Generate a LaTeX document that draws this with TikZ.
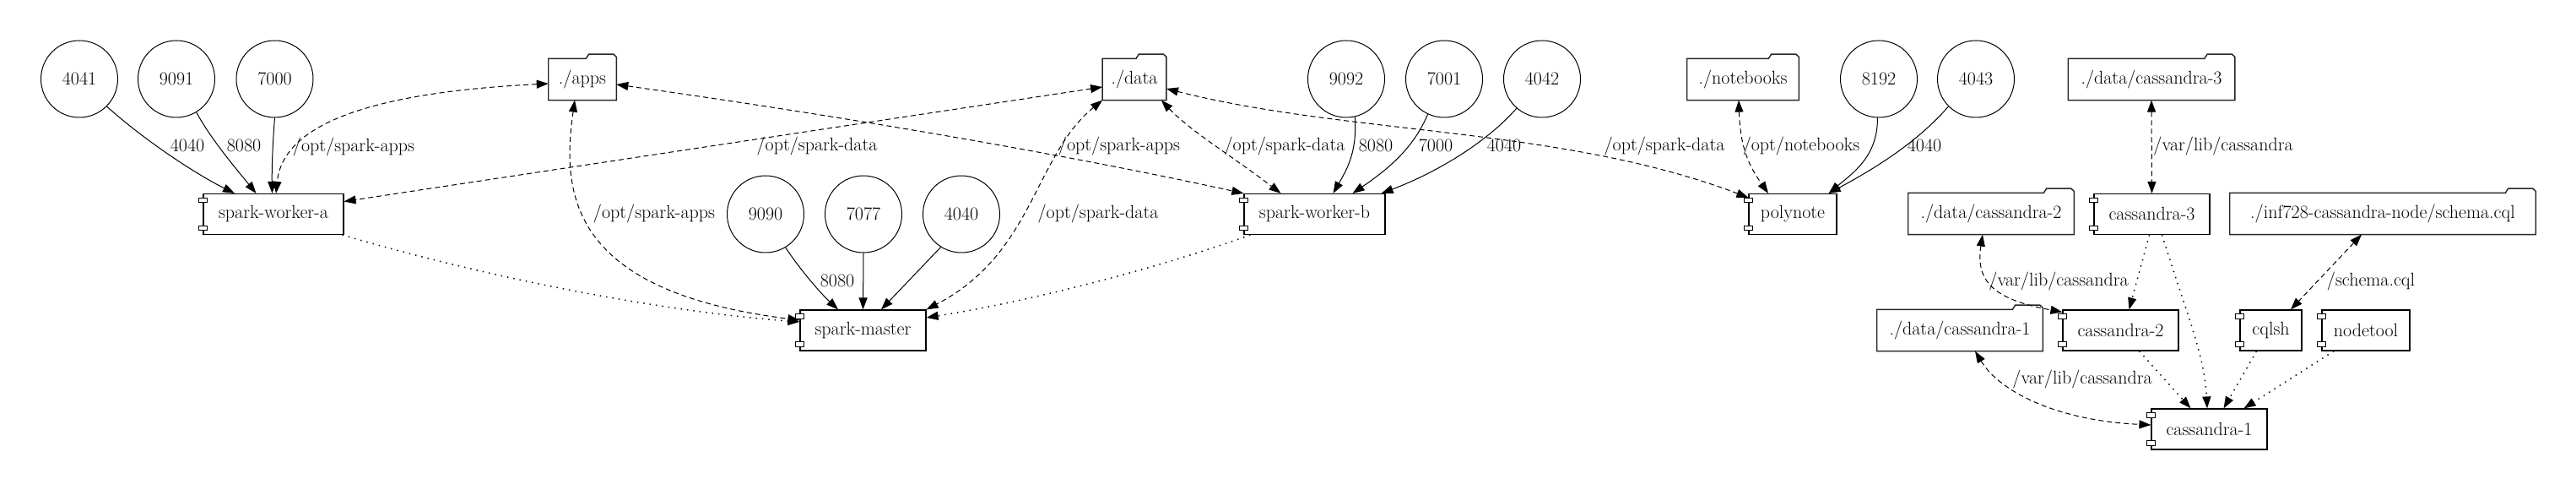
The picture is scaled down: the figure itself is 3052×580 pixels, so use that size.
\documentclass[tikz,border=0pt]{standalone}
\usetikzlibrary{arrows.meta,calc}
\tikzset{
  port/.style={draw, circle, minimum size=68.25pt, inner sep=0pt, line width=0.75pt},
  comp/.style={draw, rectangle, minimum height=36pt, inner sep=0pt, line width=0.9pt},
  folder/.style={rectangle, minimum height=36.5pt, inner sep=0pt},
  folderline/.style={draw=black!85, line width=1.1pt, line join=miter},
  tab/.style={draw, fill=white, line width=0.7pt},
  lbl/.style={inner sep=0pt},
  tip/.tip={Triangle[length=10.5pt, width=7.5pt]},
  portedge/.style={-tip, line width=0.75pt},
  voledge/.style={tip-tip, line width=0.75pt, dash pattern=on 4.5pt off 3pt},
  depedge/.style={-tip, line width=1.1pt, dash pattern=on 1.1pt off 4.5pt},
}
\begin{document}
\begin{tikzpicture}[x=0.75pt, y=-0.75pt, font=\rmfamily\fontsize{16.5}{20}\selectfont]
\useasboundingbox (0,0) rectangle (3052,580);

% ports
\node[port] (p4041) at (94,93.5) {4041};
\node[port] (p9091) at (209,93.5) {9091};
\node[port] (p7000) at (325.5,93.5) {7000};
\node[port] (p9090) at (907,253.5) {9090};
\node[port] (p7077) at (1023,253.5) {7077};
\node[port] (p4040) at (1139,253.5) {4040};
\node[port] (p9092) at (1595,93.5) {9092};
\node[port] (p7001) at (1711,93.5) {7001};
\node[port] (p4042) at (1827,93.5) {4042};
\node[port] (p8192) at (2226,93.5) {8192};
\node[port] (p4043) at (2341,93.5) {4043};

% folders
\node[folder, minimum width=60pt] (apps) at (690,94) {./apps};
\node[folder, minimum width=56.5pt] (data) at (1344,94) {./data};
\node[folder, minimum width=99pt] (notebooks) at (2065,94) {./notebooks};
\node[folder, minimum width=147.75pt] (cass3f) at (2549,94) {./data/cassandra-3};
\node[folder, minimum width=147pt] (cass2f) at (2359,253) {./data/cassandra-2};
\node[folder, minimum width=271.5pt] (schemaf) at (2823,253) {./inf728-cassandra-node/schema.cql};
\node[folder, minimum width=147pt] (cass1f) at (2322,391) {./data/cassandra-1};
\foreach \n in {apps,data,notebooks,cass3f,cass2f,schemaf,cass1f}{
  \draw[folderline] (\n.south west) -- (\n.north west) -- ($(\n.north east)+(-36,0)$)
    -- ($(\n.north east)+(-32.6,-5.3)$) -- ($(\n.north east)+(-3.5,-5.3)$)
    -- ($(\n.north east)+(0,-2)$) -- (\n.south east) -- cycle;
}

% components
\node[comp, minimum width=124.5pt] (wa) at (324,253.5) {spark-worker-a};
\node[comp, minimum width=111.75pt] (master) at (1022.5,391) {spark-master};
\node[comp, minimum width=125.25pt] (wb) at (1557.5,253.5) {spark-worker-b};
\node[comp, minimum width=78pt] (polynote) at (2124,253.5) {polynote};
\node[comp, minimum width=102.75pt] (cass3) at (2549.5,253.5) {cassandra-3};
\node[comp, minimum width=102.75pt] (cass2) at (2512.5,391) {cassandra-2};
\node[comp, minimum width=54.75pt] (cqlsh) at (2690.5,391) {cqlsh};
\node[comp, minimum width=78pt] (nodetool) at (2803,391) {nodetool};
\node[comp, minimum width=102.75pt] (cass1) at (2617.5,508) {cassandra-1};
\foreach \n in {wa,master,wb,polynote,cass3,cass2,cqlsh,nodetool,cass1}{
  \draw[tab] ($(\n.north west)+(-5,5.5)$) rectangle ++(10,5.5);
  \draw[tab] ($(\n.south west)+(-5,-11)$) rectangle ++(10,5.5);
}

% port edges
\draw[portedge] (p4041.-45) .. controls (170,165) and (230,205) .. ($(wa.north)+(-46,0)$);
\draw[portedge] (p9091.-59) .. controls (250,165) and (280,200) .. ($(wa.north)+(-20.5,0)$);
\draw[portedge] (p7000.south) .. controls (323,170) and (322,200) .. ($(wa.north)+(-1.5,0)$);
\draw[portedge] (p9090.-59) .. controls (945,315) and (970,345) .. ($(master.north)+(-29.5,0)$);
\draw[portedge] (p7077.south) -- (master.north);
\draw[portedge] (p4040.-122) -- ($(master.north)+(21.5,0)$);
\draw[portedge] (p9092.-77) .. controls (1608,180) and (1596,200) .. ($(wb.north)+(22,0)$);
\draw[portedge] (p7001.-115) .. controls (1675,175) and (1645,200) .. ($(wb.north)+(45,0)$);
\draw[portedge] (p4042.-131) .. controls (1760,170) and (1700,205) .. ($(wb.north east)+(-5,0)$);
\draw[portedge] (p8192.-92) .. controls (2225,185) and (2195,205) .. ($(polynote.north east)+(-10,0)$);
\draw[portedge] (p4043.225) .. controls (2270,170) and (2220,200) .. ($(polynote.north east)+(-10,0)$);

\node[lbl] (l1) at (222,172) {4040};
\node[lbl] (l2) at (289,172) {8080};
\node[lbl] (l3) at (992,332) {8080};
\node[lbl] (l4) at (1630,172) {8080};
\node[lbl] (l5) at (1701,172) {7000};
\node[lbl] (l6) at (1782,172) {4040};
\node[lbl] (l7) at (2280,172) {4040};

% volume edges
\draw[voledge] (apps.west |- 0,99) .. controls (430,110) and (335,150) .. ($(wa.north)+(3,0)$);
\draw[voledge] ($(data.west)+(0,9)$) -- ($(wa.east)+(0,-15)$);
\draw[voledge] ($(apps.south)+(-9,0)$) .. controls (665,230) and (675,345) .. ($(master.west)+(0,-12)$);
\draw[voledge] (data.south west) .. controls (1225,185) and (1225,300) .. (master.north east);
\draw[voledge] ($(apps.east)+(0,6)$) .. controls (980,135) and (1250,180) .. (wb.north west);
\draw[voledge] ($(data.south east)+(-6,0)$) .. controls (1410,155) and (1460,185) .. ($(wb.north)+(-40,0)$);
\draw[voledge] ($(data.east)+(0,11)$) .. controls (1600,160) and (1850,150) .. ($(polynote.north west)+(0,5)$);
\draw[voledge] ($(notebooks.south)+(-5,0)$) .. controls (2062,180) and (2075,200) .. ($(polynote.north)+(-29,0)$);
\draw[voledge] (cass3f.south) -- (cass3.north);
\draw[voledge] ($(cass2f.south)+(-10,0)$) .. controls (2340,335) and (2365,355) .. ($(cass2.north west)+(0,3)$);
\draw[voledge] ($(cass1f.south)+(18,0)$) .. controls (2370,465) and (2440,498) .. ($(cass1.west)+(0,-5)$);
\draw[voledge] ($(schemaf.south)+(-25,0)$) -- ($(cqlsh.north)+(23.5,0)$);

\node[lbl] (v1) at (419,174) {/opt/spark-apps};
\node[lbl] (v2) at (968,173) {/opt/spark-data};
\node[lbl] (v3) at (775,253.5) {/opt/spark-apps};
\node[lbl] (v4) at (1301,253.5) {/opt/spark-data};
\node[lbl] (v5) at (1326,173) {/opt/spark-apps};
\node[lbl] (v6) at (1522,173) {/opt/spark-data};
\node[lbl] (v7) at (1972,173) {/opt/spark-data};
\node[lbl] (v8) at (2134,173) {/opt/notebooks};
\node[lbl] (v9) at (2634,173) {/var/lib/cassandra};
\node[lbl] (v10) at (2439,333) {/var/lib/cassandra};
\node[lbl] (v11) at (2467,449) {/var/lib/cassandra};
\node[lbl] (v12) at (2809,333) {/schema.cql};

% dependency edges
\draw[depedge] ($(wa.south east)+(-2,0)$) .. controls (600,335) and (800,370) .. ($(master.west)+(0,-10)$);
\draw[depedge] ($(wb.south west)+(8,0)$) .. controls (1350,325) and (1200,360) .. ($(master.east)+(0,-15)$);
\draw[depedge] ($(cass3.south)+(-3,0)$) -- ($(cass2.north)+(10,0)$);
\draw[depedge] ($(cass3.south)+(12,0)$) .. controls (2590,370) and (2612,420) .. ($(cass1.north)+(-2.5,0)$);
\draw[depedge] ($(cass2.south)+(22,0)$) -- ($(cass1.north)+(-22,0)$);
\draw[depedge] ($(cqlsh.south)+(-17,0)$) -- ($(cass1.north)+(17,0)$);
\draw[depedge] ($(nodetool.south)+(-38,0)$) -- ($(cass1.north)+(41,0)$);
\end{tikzpicture}
\end{document}
